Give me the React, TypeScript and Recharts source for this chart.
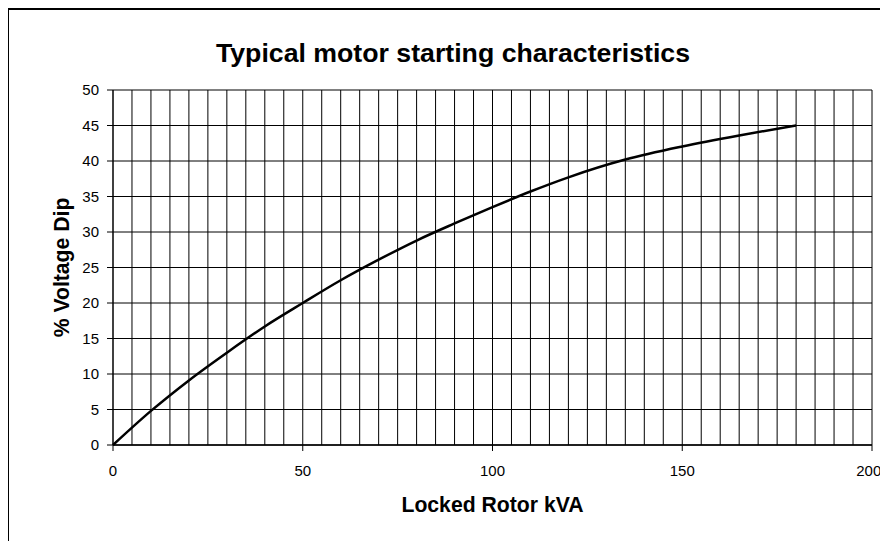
import React from 'react'
import {
  LineChart, Line, XAxis, YAxis, CartesianGrid, ReferenceLine, Label,
} from 'recharts'

// curve
const kva = [0, 10, 20, 30, 40, 50, 60, 70, 80, 90, 100, 110, 120, 135, 150, 165, 180]
const dip = [0, 4.8, 9.1, 13.0, 16.7, 20, 23.2, 26.1, 28.8, 31.2, 33.5, 35.7, 37.7, 40.2, 42.05, 43.6, 45]

const xTicks = [0, 50, 100, 150, 200]
const yTicks = [0, 5, 10, 15, 20, 25, 30, 35, 40, 45, 50]
const xGrid = [
  5, 10, 15, 20, 25, 30, 35, 40, 45, 50, 55, 60, 65, 70, 75, 80, 85, 90, 95, 100,
  105, 110, 115, 120, 125, 130, 135, 140, 145, 150, 155, 160, 165, 170, 175, 180, 185, 190, 195, 200,
]

const data = kva.map((x, i) => ({ x, y: dip[i] }))

const font = '"Liberation Sans", Arial, sans-serif'

export default function App() {
  return (
    <div style={{ position: 'relative', width: 872, height: 533, fontFamily: font }}>
      <style>{'html, body { overflow: hidden; }'}</style>
      {/* frame, only top and left edges show in the reference */}
      <div
        style={{
          position: 'absolute', left: -1, top: 0, width: 880, height: 541, boxSizing: 'border-box',
          borderTop: '2px solid #000', borderLeft: '2px solid #000',
        }}
      />
      <div
        style={{
          position: 'absolute', left: 145, top: 30, width: 600, textAlign: 'center',
          fontSize: 26.7, fontWeight: 'bold', color: '#000',
        }}
      >
        Typical motor starting characteristics
      </div>
      <LineChart
        width={872}
        height={533}
        data={data}
        margin={{ top: 82, right: 8, bottom: 0, left: 1 }}
        style={{ overflow: 'visible' }}
      >
        <CartesianGrid vertical={false} stroke="#000" strokeWidth={1} />
        {xGrid.map((v) => (
          <ReferenceLine key={v} x={v} stroke="#000" strokeWidth={1} />
        ))}
        <XAxis
          type="number"
          dataKey="x"
          domain={[0, 200]}
          ticks={xTicks}
          tick={{ fill: '#000', fontSize: 15, fontFamily: font }}
          tickSize={6}
          tickMargin={14}
          axisLine={{ stroke: '#000', strokeWidth: 1.5 }}
          tickLine={{ stroke: '#000' }}
          height={96}
        >
          <Label
            value="Locked Rotor kVA"
            position="insideBottom"
            offset={29}
            style={{ fontSize: 21.2, fontWeight: 'bold', fill: '#000', fontFamily: font }}
          />
        </XAxis>
        <YAxis
          type="number"
          domain={[0, 50]}
          ticks={yTicks}
          tick={{ fill: '#000', fontSize: 15, fontFamily: font }}
          tickSize={6}
          tickMargin={8}
          axisLine={{ stroke: '#000', strokeWidth: 1.5 }}
          tickLine={{ stroke: '#000' }}
          width={104}
        >
          <Label
            value="% Voltage Dip"
            angle={-90}
            position="center"
            style={{ fontSize: 21.2, fontWeight: 'bold', fill: '#000', fontFamily: font }}
          />
        </YAxis>
        <Line
          type="monotone"
          dataKey="y"
          stroke="#000"
          strokeWidth={2.5}
          dot={false}
          isAnimationActive={false}
        />
      </LineChart>
    </div>
  )
}
